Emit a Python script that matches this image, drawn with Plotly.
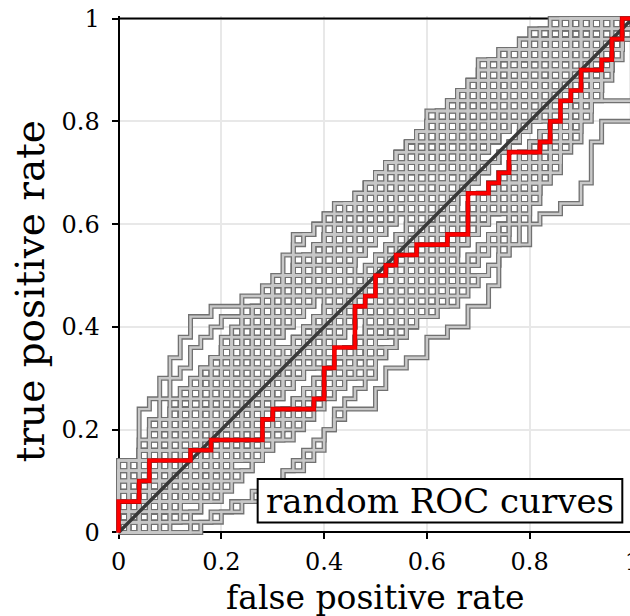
import plotly.graph_objects as go

# Each ROC curve uses 50 positives and 50 negatives.
N = 50

tick_vals = [0, 0.2, 0.4, 0.6, 0.8, 1]
tick_text = ["0", "0.2", "0.4", "0.6", "0.8", "1"]

# True-positive count reached at each false-positive count k = 0..50.
highlight_tp = [3, 3, 5, 7, 7, 7, 7, 8, 8, 9,
                9, 9, 9, 9, 11, 12, 12, 12, 12, 13,
                16, 18, 18, 22, 23, 25, 26, 27, 27, 28,
                28, 28, 29, 29, 33, 33, 34, 35, 37, 37,
                37, 38, 40, 42, 43, 45, 45, 46, 48, 50,
                50]

random_tp = [
    [7,7,12,13,15,17,19,21,21,22, 22,22,23,23,23,24,25,29,29,30, 31,32,32,33,34,35,36,37,38,39, 41,41,42,43,44,46,46,47,47,47, 47,48,48,49,49,50,50,50,50,50, 50],
    [0,0,0,0,0,0,0,1,1,2, 2,3,3,3,4,4,6,6,7,8, 10,11,12,12,12,14,16,16,17,17, 19,19,20,20,22,22,24,27,28,28, 30,31,31,32,32,34,38,40,40,40, 50],
    [2,4,5,6,8,9,9,11,12,13, 14,16,16,17,19,20,21,21,23,24, 25,26,27,29,29,30,32,33,33,35, 36,37,38,38,40,41,42,43,43,45, 46,47,47,48,49,49,50,50,50,50, 50],
    [0,0,1,1,2,3,3,4,5,6, 7,7,8,9,10,10,11,12,13,14, 14,15,16,17,18,19,19,20,21,22, 23,24,25,26,27,28,29,30,32,33, 35,36,37,38,40,41,43,45,47,48, 50],
    [5,6,8,9,10,11,13,14,15,15, 16,17,18,19,20,21,22,22,23,24, 24,25,26,27,28,29,30,31,32,32, 33,34,35,36,37,38,38,39,40,41, 42,43,44,45,46,47,48,49,49,50, 50],
    [0,1,3,4,4,6,7,8,10,11, 13,14,15,16,18,19,21,22,22,24, 25,26,27,28,30,31,32,33,34,35, 36,37,39,40,41,41,42,43,44,45, 45,46,47,48,48,49,49,50,50,50, 50],
    [1,1,2,2,3,4,4,5,5,6, 7,8,8,9,10,10,11,12,12,13, 14,14,15,16,17,18,18,19,20,21, 21,22,23,24,26,27,28,30,31,33, 34,36,37,39,40,42,44,46,48,49, 50],
    [1,2,2,3,4,5,7,7,8,9, 10,11,12,13,14,15,16,17,19,19, 20,21,22,23,24,25,26,27,28,29, 30,31,32,33,35,36,36,37,38,39, 40,41,42,43,44,45,46,47,48,49, 50],
    [3,5,7,9,11,12,13,14,16,17, 18,19,21,22,23,24,25,27,27,28, 29,30,31,32,33,34,36,37,38,39, 40,40,41,42,43,44,45,46,47,47, 48,48,49,49,50,50,50,50,50,50, 50],
    [0,1,1,2,3,3,4,5,6,7, 8,8,9,10,11,12,12,13,14,14, 15,16,17,17,18,19,20,21,21,22, 22,23,24,25,26,27,29,30,32,33, 34,35,37,38,40,41,43,45,47,49, 50],
    [6,7,8,10,11,12,13,14,16,17, 17,18,19,20,22,23,24,25,26,27, 28,29,29,30,31,32,33,35,36,37, 38,39,40,41,42,43,44,45,45,46, 47,47,48,48,49,49,50,50,50,50, 50],
    [0,0,0,1,2,3,4,4,5,6, 7,9,10,11,12,14,15,16,17,19, 20,22,23,24,25,27,28,29,30,31, 32,34,35,36,37,38,39,40,41,42, 43,44,45,46,47,48,48,49,50,50, 50],
    [2,2,3,4,5,5,6,7,8,8, 9,10,11,12,13,13,14,15,16,17, 18,19,20,21,22,23,24,25,26,28, 29,31,33,34,36,37,38,40,41,42, 43,44,45,46,47,48,49,49,50,50, 50],
    [4,6,7,8,9,10,12,13,14,15, 16,18,19,20,21,23,24,25,26,27, 28,29,30,31,32,33,34,35,36,37, 38,39,40,41,42,42,43,44,45,46, 46,47,48,48,49,49,50,50,50,50, 50],
    [0,0,0,0,1,1,2,2,3,4, 5,6,6,7,8,9,10,11,12,13, 15,16,18,19,20,21,22,23,24,25, 27,28,29,30,31,32,33,34,35,36, 38,39,40,41,42,43,45,46,47,48, 50],
    [3,4,5,6,8,10,12,14,15,17, 18,19,20,21,22,24,25,26,26,27, 28,29,30,31,32,33,33,34,35,36, 37,38,39,40,41,42,43,44,45,45, 46,47,47,48,48,49,49,50,50,50, 50],
    [1,2,3,3,4,5,6,7,8,9, 10,11,11,12,13,14,15,15,16,16, 17,17,18,18,19,19,20,20,21,21, 21,22,22,23,24,25,26,28,30,32, 34,36,37,39,41,43,45,46,48,49, 50],
    [2,3,3,4,5,6,7,8,8,9, 10,11,12,13,14,15,16,17,18,18, 19,20,20,21,22,22,23,24,24,25, 26,27,28,28,29,30,31,32,34,35, 36,37,39,40,42,43,45,46,48,49, 50],
    [1,2,3,4,5,6,7,8,9,10, 11,12,13,14,15,16,17,18,19,20, 21,22,22,23,24,25,26,27,28,29, 30,31,32,33,34,35,36,37,38,39, 40,40,41,41,42,42,42,42,42,42, 50],
    [2,3,4,6,7,8,9,10,11,12, 14,15,16,17,18,19,20,22,23,24, 25,26,27,28,29,30,31,32,33,34, 35,36,37,38,39,40,41,42,43,44, 45,46,47,48,49,50,50,50,50,50, 50],
    [0,1,2,2,3,4,5,6,7,8, 9,10,11,12,13,14,15,16,17,18, 19,20,21,22,23,24,25,25,26,27, 28,29,30,31,32,33,34,35,36,37, 38,39,40,42,43,44,46,47,48,49, 50],
    [4,4,5,5,6,7,7,8,9,10, 11,11,12,13,14,15,16,17,18,19, 20,21,23,24,25,27,28,29,30,32, 33,34,35,37,38,39,40,41,42,43, 44,45,46,47,48,49,49,50,50,50, 50],
    [0,1,2,3,3,4,5,5,6,7, 7,8,9,10,11,12,12,13,14,15, 16,17,17,18,19,20,21,22,23,24, 25,26,27,28,29,30,31,32,33,34, 35,36,38,39,40,42,43,45,47,49, 50],
    [5,7,8,10,11,13,14,15,16,17, 19,20,21,22,23,24,25,26,27,28, 30,31,32,33,34,35,36,37,38,39, 40,41,42,43,44,45,46,47,47,48, 48,49,49,50,50,50,50,50,50,50, 50],
    [1,3,4,5,6,7,8,9,10,11, 12,13,14,15,16,17,18,19,20,21, 22,23,24,25,26,27,28,29,31,32, 33,34,35,36,37,38,39,40,41,42, 43,44,45,46,47,48,49,50,50,50, 50],
    [0,0,1,2,3,4,5,6,7,7, 8,9,10,11,12,13,14,15,16,17, 18,19,20,21,22,23,24,25,26,27, 28,29,30,31,32,33,34,35,36,37, 38,39,40,41,42,43,44,46,47,48, 50],
    [3,4,6,7,8,10,11,12,13,14, 15,15,16,16,17,18,18,19,20,21, 22,23,25,27,28,29,30,31,32,32, 33,33,34,35,36,37,38,39,40,41, 42,43,44,45,46,47,48,49,49,50, 50],
    [0,1,1,2,2,3,4,5,6,7, 8,9,10,12,14,15,17,18,19,20, 21,22,23,24,25,26,27,28,29,30, 31,32,33,34,35,37,38,39,40,41, 42,44,45,46,47,48,48,49,49,50, 50],
    [7,7,8,9,10,11,12,13,14,15, 16,17,18,19,20,21,22,23,24,25, 26,27,28,29,30,31,32,33,34,35, 36,37,38,39,40,41,42,43,44,45, 46,47,48,49,49,50,50,50,50,50, 50],
    [1,1,2,2,3,3,4,5,6,7, 8,8,9,9,10,11,12,13,13,14, 15,15,16,17,18,19,20,21,22,23, 24,25,26,28,29,30,31,33,34,36, 37,38,40,41,42,44,45,47,48,49, 50],
    [6,6,9,11,13,15,16,18,19,20, 21,21,22,22,23,24,25,26,27,28, 29,30,31,32,33,34,35,36,37,38, 39,40,41,42,43,44,45,46,46,47, 47,48,48,49,49,50,50,50,50,50, 50],
    [0,0,0,1,1,2,3,4,5,6, 7,8,9,10,10,11,12,13,14,15, 16,17,18,19,20,21,22,24,25,26, 27,28,29,30,31,32,34,35,36,37, 38,39,40,41,42,43,44,45,47,48, 50],
    [2,3,5,6,7,8,10,11,12,13, 14,15,16,17,18,19,20,21,22,23, 24,25,26,27,28,29,30,31,32,33, 34,35,36,37,38,39,40,41,42,43, 44,45,46,47,48,49,50,50,50,50, 50],
    [1,2,3,4,5,6,6,7,8,9, 10,11,12,13,13,14,15,16,17,18, 19,19,20,21,22,23,24,24,25,26, 27,27,28,29,29,30,31,31,32,33, 34,35,37,39,41,43,45,47,48,49, 50],
    [0,0,0,0,0,0,0,0,1,1, 2,2,3,4,4,5,6,7,8,9, 10,12,13,14,15,17,18,19,20,21, 22,23,24,26,27,28,29,30,31,32, 33,34,35,37,38,40,42,44,46,48, 50],
    [4,5,7,8,10,11,12,13,14,16, 17,18,19,20,21,22,23,24,25,26, 27,28,29,30,31,32,33,34,35,36, 37,38,39,40,41,42,43,44,45,46, 47,48,49,49,50,50,50,50,50,50, 50],
    [2,2,3,4,4,5,6,7,8,9, 10,11,12,12,13,14,15,15,16,16, 17,17,18,18,19,20,20,21,21,22, 22,23,24,24,25,25,26,27,28,30, 32,34,36,38,40,42,44,46,48,49, 50],
    [3,5,6,8,9,11,12,14,15,17, 18,19,21,22,24,25,27,28,29,30, 31,31,32,33,34,35,36,37,38,38, 39,40,41,42,43,44,45,46,47,48, 49,49,50,50,50,50,50,50,50,50, 50],
    [1,1,2,3,4,6,6,7,8,9, 10,11,12,14,15,16,17,18,18,19, 20,21,22,23,24,25,26,27,28,29, 30,31,32,33,34,35,36,37,38,39, 40,41,42,43,44,46,47,48,49,49, 50],
    [0,0,1,1,1,2,3,3,4,5, 6,7,8,8,9,10,11,12,13,13, 14,14,15,15,16,17,18,19,20,21, 22,23,24,25,26,27,28,29,30,31, 33,35,36,38,39,41,43,45,47,48, 50],
    [0,0,1,1,2,2,3,3,4,5, 6,7,7,8,9,10,11,11,12,13, 14,15,16,17,18,19,20,21,22,23, 25,26,27,28,29,31,32,33,34,35, 37,38,39,40,42,43,44,46,47,49, 50],
    [0,0,0,0,0,1,1,2,3,3, 4,5,6,7,8,9,9,10,11,12, 13,14,16,17,18,19,21,22,23,24, 26,27,28,29,30,32,33,34,35,37, 38,39,41,42,43,44,45,47,48,49, 50],
    [2,2,3,4,8,9,10,11,12,13, 15,16,17,18,19,21,22,23,24,25, 26,27,28,29,31,32,33,34,35,36, 37,38,39,40,41,42,43,44,45,46, 47,48,48,49,49,50,50,50,50,50, 50],
    [1,2,3,4,5,7,8,9,11,12, 14,16,17,19,20,22,23,25,26,28, 29,30,31,32,34,35,36,37,38,39, 40,41,42,43,44,45,46,46,47,47, 48,48,49,49,50,50,50,50,50,50, 50],
    [2,3,4,5,6,7,8,9,10,11, 12,12,13,14,15,16,17,18,19,20, 21,21,22,23,24,25,25,26,27,28, 28,29,30,31,31,32,33,34,34,35, 36,37,38,40,41,43,44,46,48,49, 50],
    [1,1,2,3,4,5,6,7,8,9, 10,11,12,13,14,16,17,18,20,21, 23,24,26,27,29,30,32,33,35,36, 37,39,40,41,42,43,44,45,46,46, 47,48,48,49,49,50,50,50,50,50, 50],
    [0,0,1,2,2,3,4,4,5,6, 7,8,8,9,10,11,12,13,14,15, 16,17,18,19,21,22,23,25,26,28, 29,30,31,33,34,35,36,37,38,40, 41,42,43,44,45,46,47,48,49,50, 50],
    [5,5,6,7,8,9,10,11,12,13, 14,15,15,16,17,18,18,19,20,21, 22,22,23,24,25,26,26,27,28,29, 30,31,32,33,34,35,36,37,38,39, 40,41,42,43,44,45,46,47,48,49, 50],
]

for tp in random_tp + [highlight_tp]:
    assert len(tp) == N + 1 and tp[-1] == N
    assert all(a <= b for a, b in zip(tp, tp[1:]))


def staircase(tp_counts):
    """Corner points of an ROC staircase, drawn with an 'hv' line shape."""
    xs = [0.0] + [k / N for k in range(len(tp_counts))]
    ys = [0.0] + [t / N for t in tp_counts]
    return xs, ys


gray_x, gray_y = [], []
for tp in random_tp:
    xs, ys = staircase(tp)
    gray_x += xs + [None]
    gray_y += ys + [None]

red_x, red_y = staircase(highlight_tp)

fig = go.Figure()
# gray curves: dark wide stroke under a light narrow stroke
fig.add_trace(go.Scatter(x=gray_x, y=gray_y, mode="lines",
                         line=dict(color="#717171", width=5, shape="hv"),
                         hoverinfo="skip", showlegend=False))
fig.add_trace(go.Scatter(x=gray_x, y=gray_y, mode="lines",
                         line=dict(color="#c8c8c8", width=2.4, shape="hv"),
                         hoverinfo="skip", showlegend=False))
# chance diagonal
fig.add_trace(go.Scatter(x=[0, 1], y=[0, 1], mode="lines",
                         line=dict(color="#383838", width=3.5),
                         hoverinfo="skip", showlegend=False))
# highlighted curve
fig.add_trace(go.Scatter(x=red_x, y=red_y, mode="lines",
                         line=dict(color="#c80000", width=4.6, shape="hv"),
                         hoverinfo="skip", showlegend=False))
fig.add_trace(go.Scatter(x=red_x, y=red_y, mode="lines",
                         line=dict(color="#ff0000", width=3, shape="hv"),
                         hoverinfo="skip", showlegend=False))

PAD = 0.005
SERIF = "DejaVu Serif"


def paper(v):
    """Data value -> paper fraction for the padded axis range."""
    return (v + PAD) / (1 + 2 * PAD)


axis_common = dict(
    range=[-PAD, 1 + PAD],
    anchor="free",
    position=paper(0),
    automargin=False,
    showline=True, linecolor="black", linewidth=2,
    ticks="outside", ticklen=6, tickwidth=2, tickcolor="black",
    tickvals=tick_vals, ticktext=tick_text,
    tickfont=dict(family=SERIF, size=24, color="black"),
    showgrid=True, gridcolor="#e8e8e8", gridwidth=1.5,
    zeroline=False, layer="below traces", fixedrange=True,
)

fig.update_layout(
    width=650, height=616,
    margin=dict(l=116, r=15, t=16, b=81),
    paper_bgcolor="white", plot_bgcolor="white",
    xaxis=dict(**axis_common, ticklabelstandoff=2),
    yaxis=dict(**axis_common, ticklabelstandoff=7),
    shapes=[
        dict(type="line", xref="x", yref="y", x0=0, x1=1, y0=1, y1=1,
             line=dict(color="black", width=2), layer="between"),
        dict(type="rect", xref="x", yref="y", x0=0.2707, x1=0.9803,
             y0=0.0195, y1=0.104, fillcolor="white",
             line=dict(color="black", width=2), layer="above"),
    ],
    annotations=[
        dict(text="random ROC curves", xref="paper", yref="paper",
             x=paper(0.6255), y=paper(0.0617),
             xanchor="center", yanchor="middle", showarrow=False,
             font=dict(family=SERIF, size=34, color="black")),
        dict(text="false positive rate", xref="paper", yref="paper",
             x=paper(0.5004), y=paper(-0.126),
             xanchor="center", yanchor="middle", showarrow=False,
             font=dict(family=SERIF, size=33, color="black")),
        dict(text="true positive rate", xref="paper", yref="paper",
             x=paper(-0.172), y=paper(0.4697),
             xanchor="center", yanchor="middle", showarrow=False, textangle=-90,
             font=dict(family=SERIF, size=39, color="black")),
    ],
)

fig.write_html("out.html",
               post_script="document.documentElement.style.overflow='hidden';"
                           "document.body.style.overflow='hidden';")
